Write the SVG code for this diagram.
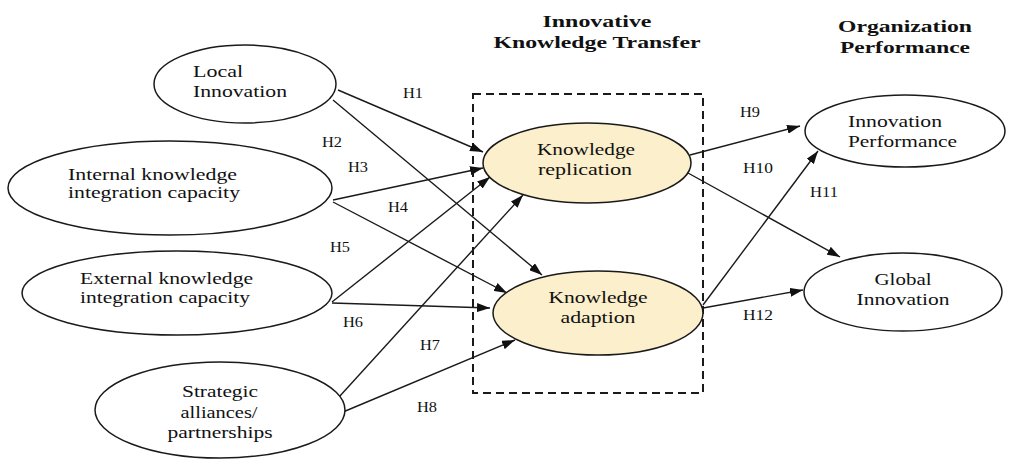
<svg xmlns="http://www.w3.org/2000/svg" width="1009" height="462" viewBox="0 0 1009 462">
  <style>
    .node { fill: #ffffff; stroke: #1a1a1a; stroke-width: 1.5; }
    .core { fill: #fcefcb; stroke: #1a1a1a; stroke-width: 1.5; }
    text { font-family: "Liberation Serif", "DejaVu Serif", "Times New Roman", serif; fill: #111; }
    .txt { font-size: 16px; }
    .mid { text-anchor: middle; }
    .head { font-size: 17px; font-weight: bold; text-anchor: middle; }
    .lbl { font-size: 14px; }
    .edge { stroke: #1a1a1a; stroke-width: 1.4; fill: none; marker-end: url(#arrow); }
    .box { fill: none; stroke: #1a1a1a; stroke-width: 2; stroke-dasharray: 8 5; }
  </style>
  <defs>
    <marker id="arrow" viewBox="0 0 13 9" refX="13" refY="4.5" markerWidth="13" markerHeight="9" markerUnits="userSpaceOnUse" orient="auto">
      <path d="M0,0 L13,4.5 L0,9 Z" fill="#111"/>
    </marker>
  </defs>
  <rect width="1009" height="462" fill="#ffffff"/>

  <!-- column headings -->
  <g id="headings" font-family="Liberation Serif, serif">
    <text class="head" x="597" y="27" textLength="109" lengthAdjust="spacingAndGlyphs">Innovative</text>
    <text class="head" x="597" y="48" textLength="207" lengthAdjust="spacingAndGlyphs">Knowledge Transfer</text>
    <text class="head" x="905" y="32" textLength="134" lengthAdjust="spacingAndGlyphs">Organization</text>
    <text class="head" x="905" y="53" textLength="130" lengthAdjust="spacingAndGlyphs">Performance</text>
  </g>

  <!-- dashed frame around the transfer constructs -->
  <rect class="box" x="473" y="94" width="230" height="299"/>

  <!-- connectors -->
  <g id="connectors">
    <line class="edge" x1="338" y1="90" x2="483" y2="152"/>
    <line class="edge" x1="333" y1="100" x2="542" y2="275"/>
    <line class="edge" x1="333" y1="200" x2="483" y2="168"/>
    <line class="edge" x1="333" y1="202" x2="507" y2="293"/>
    <line class="edge" x1="332" y1="302" x2="490" y2="177"/>
    <line class="edge" x1="332" y1="303" x2="490" y2="308"/>
    <line class="edge" x1="339" y1="397" x2="523" y2="195"/>
    <line class="edge" x1="343" y1="412" x2="515" y2="340"/>
    <line class="edge" x1="690" y1="155" x2="800" y2="126"/>
    <line class="edge" x1="688" y1="173" x2="840" y2="257"/>
    <line class="edge" x1="703" y1="305" x2="818" y2="151"/>
    <line class="edge" x1="703" y1="308" x2="803" y2="290"/>
  </g>

  <!-- hypothesis labels -->
  <g id="labels">
    <text class="lbl" x="403" y="98" textLength="20" lengthAdjust="spacingAndGlyphs">H1</text>
    <text class="lbl" x="322" y="147" textLength="20" lengthAdjust="spacingAndGlyphs">H2</text>
    <text class="lbl" x="348" y="172" textLength="20" lengthAdjust="spacingAndGlyphs">H3</text>
    <text class="lbl" x="388" y="212" textLength="20" lengthAdjust="spacingAndGlyphs">H4</text>
    <text class="lbl" x="330" y="252" textLength="20" lengthAdjust="spacingAndGlyphs">H5</text>
    <text class="lbl" x="343" y="327" textLength="20" lengthAdjust="spacingAndGlyphs">H6</text>
    <text class="lbl" x="420" y="350" textLength="20" lengthAdjust="spacingAndGlyphs">H7</text>
    <text class="lbl" x="417" y="412" textLength="20" lengthAdjust="spacingAndGlyphs">H8</text>
    <text class="lbl" x="740" y="117" textLength="20" lengthAdjust="spacingAndGlyphs">H9</text>
    <text class="lbl" x="743" y="173" textLength="30" lengthAdjust="spacingAndGlyphs">H10</text>
    <text class="lbl" x="810" y="197" textLength="28" lengthAdjust="spacingAndGlyphs">H11</text>
    <text class="lbl" x="743" y="320" textLength="30" lengthAdjust="spacingAndGlyphs">H12</text>
  </g>

  <g id="local-innovation">
    <ellipse class="node" cx="245" cy="84" rx="91" ry="39"/>
    <text class="txt" x="193" y="77" textLength="50" lengthAdjust="spacingAndGlyphs">Local</text>
    <text class="txt" x="193" y="97" textLength="94" lengthAdjust="spacingAndGlyphs">Innovation</text>
  </g>

  <g id="internal-capacity">
    <ellipse class="node" cx="170" cy="188" rx="162" ry="47"/>
    <text class="txt" x="68" y="180" textLength="169" lengthAdjust="spacingAndGlyphs">Internal knowledge</text>
    <text class="txt" x="68" y="198" textLength="172" lengthAdjust="spacingAndGlyphs">integration capacity</text>
  </g>

  <g id="external-capacity">
    <ellipse class="node" cx="177" cy="293" rx="155" ry="42"/>
    <text class="txt" x="80" y="284" textLength="173" lengthAdjust="spacingAndGlyphs">External knowledge</text>
    <text class="txt" x="80" y="303" textLength="170" lengthAdjust="spacingAndGlyphs">integration capacity</text>
  </g>

  <g id="strategic-alliances">
    <ellipse class="node" cx="220" cy="410" rx="125" ry="48"/>
    <text class="txt mid" x="220" y="397" textLength="76" lengthAdjust="spacingAndGlyphs">Strategic</text>
    <text class="txt mid" x="219" y="418" textLength="77" lengthAdjust="spacingAndGlyphs">alliances/</text>
    <text class="txt mid" x="220" y="438" textLength="105" lengthAdjust="spacingAndGlyphs">partnerships</text>
  </g>

  <g id="knowledge-replication">
    <ellipse class="core" cx="587" cy="163" rx="104" ry="40"/>
    <text class="txt mid" x="586" y="155" textLength="98" lengthAdjust="spacingAndGlyphs">Knowledge</text>
    <text class="txt mid" x="585" y="175" textLength="94" lengthAdjust="spacingAndGlyphs">replication</text>
  </g>

  <g id="knowledge-adaption">
    <ellipse class="core" cx="598" cy="313" rx="105" ry="42"/>
    <text class="txt mid" x="598" y="303" textLength="99" lengthAdjust="spacingAndGlyphs">Knowledge</text>
    <text class="txt mid" x="598" y="323" textLength="75" lengthAdjust="spacingAndGlyphs">adaption</text>
  </g>

  <g id="innovation-performance">
    <ellipse class="node" cx="905" cy="131" rx="100" ry="36"/>
    <text class="txt" x="848" y="127" textLength="94" lengthAdjust="spacingAndGlyphs">Innovation</text>
    <text class="txt" x="848" y="147" textLength="109" lengthAdjust="spacingAndGlyphs">Performance</text>
  </g>

  <g id="global-innovation">
    <ellipse class="node" cx="903" cy="292" rx="99" ry="39"/>
    <text class="txt mid" x="903" y="285" textLength="57" lengthAdjust="spacingAndGlyphs">Global</text>
    <text class="txt mid" x="903" y="305" textLength="93" lengthAdjust="spacingAndGlyphs">Innovation</text>
  </g>
</svg>
